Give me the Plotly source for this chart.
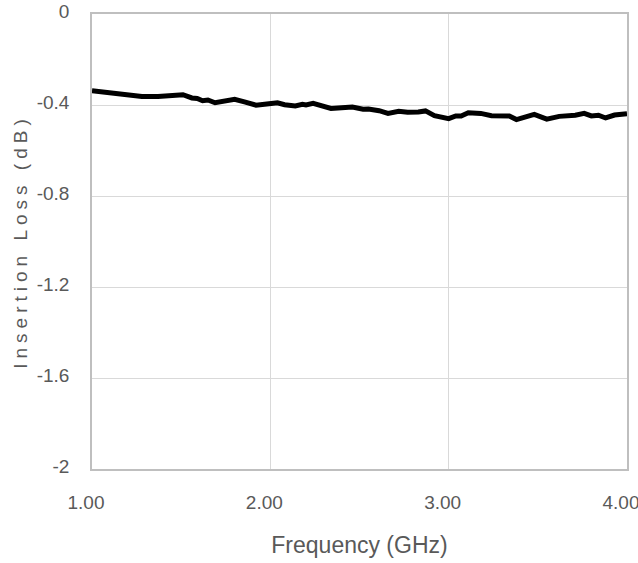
import plotly.graph_objects as go

# Data
freq_ghz = [1.00, 1.07, 1.15, 1.22, 1.28, 1.37, 1.43, 1.48, 1.51, 1.56, 1.59, 1.62,
            1.65, 1.69, 1.75, 1.80, 1.86, 1.92, 1.98, 2.04, 2.08, 2.14, 2.18, 2.20,
            2.24, 2.29, 2.34, 2.40, 2.46, 2.52, 2.55, 2.61, 2.66, 2.72, 2.77, 2.83,
            2.87, 2.92, 3.00, 3.04, 3.07, 3.11, 3.18, 3.24, 3.34, 3.38, 3.43, 3.48,
            3.55, 3.62, 3.71, 3.76, 3.80, 3.84, 3.88, 3.93, 4.00]
insertion_loss_db = [-0.337, -0.343, -0.352, -0.356, -0.363, -0.363, -0.358, -0.353, -0.355,
                     -0.369, -0.371, -0.381, -0.378, -0.390, -0.382, -0.375, -0.387, -0.401,
                     -0.396, -0.390, -0.399, -0.404, -0.397, -0.400, -0.393, -0.404, -0.415,
                     -0.412, -0.409, -0.419, -0.418, -0.425, -0.437, -0.428, -0.432, -0.431,
                     -0.426, -0.447, -0.460, -0.448, -0.448, -0.434, -0.437, -0.447, -0.448,
                     -0.464, -0.451, -0.441, -0.462, -0.450, -0.445, -0.437, -0.448, -0.445,
                     -0.457, -0.444, -0.438]

x_tickvals = [1, 2, 3, 4]
x_ticktext = ["1.00", "2.00", "3.00", "4.00"]
y_tickvals = [0, -0.4, -0.8, -1.2, -1.6, -2]
y_ticktext = ["0", "-0.4", "-0.8", "-1.2", "-1.6", "-2"]

TEXT = "#595959"
TICKFONT = dict(family="Liberation Sans Narrow, Arial Narrow, Liberation Sans, Arial", size=19, color=TEXT)

fig = go.Figure()
fig.add_trace(go.Scatter(
    x=freq_ghz, y=insertion_loss_db, mode="lines",
    line=dict(color="#000000", width=5),
    showlegend=False, hoverinfo="skip",
))

fig.update_layout(
    width=638, height=563,
    margin=dict(l=92, r=11, t=14, b=94),
    paper_bgcolor="white", plot_bgcolor="white",
    font=dict(family="Liberation Sans, Arial", color=TEXT),
)
fig.update_xaxes(
    range=[1, 4], tickvals=x_tickvals, ticktext=x_ticktext,
    showgrid=True, gridcolor="#d9d9d9", gridwidth=1,
    showline=True, linecolor="#bfbfbf", linewidth=1.5, mirror=True,
    zeroline=False, ticks="", tickfont=TICKFONT, automargin=False,
    ticklabelstandoff=15, ticklabelshift=-6, ticklabeloverflow="allow",
    title=dict(text="Frequency (GHz)", font=dict(size=23, color=TEXT,
               family="Liberation Sans, Arial"), standoff=25),
)
fig.update_yaxes(
    range=[-2, 0], tickvals=y_tickvals, ticktext=y_ticktext,
    showgrid=True, gridcolor="#d9d9d9", gridwidth=1,
    showline=True, linecolor="#bfbfbf", linewidth=1.5, mirror=True,
    zeroline=False, ticks="", tickfont=TICKFONT, automargin=False,
    ticklabelstandoff=17, ticklabelshift=-3, ticklabeloverflow="allow",
    title=dict(text="Insertion Loss (dB)", font=dict(size=19, color=TEXT,
               family="Liberation Sans, Arial"), standoff=4),
)

post = ("document.body.style.margin='0';"
        "var t=document.querySelectorAll('.ytitle');"
        "t.forEach(function(e){e.style.letterSpacing='5px';});")
fig.write_html("out.html", post_script=post, config={"displayModeBar": False})
